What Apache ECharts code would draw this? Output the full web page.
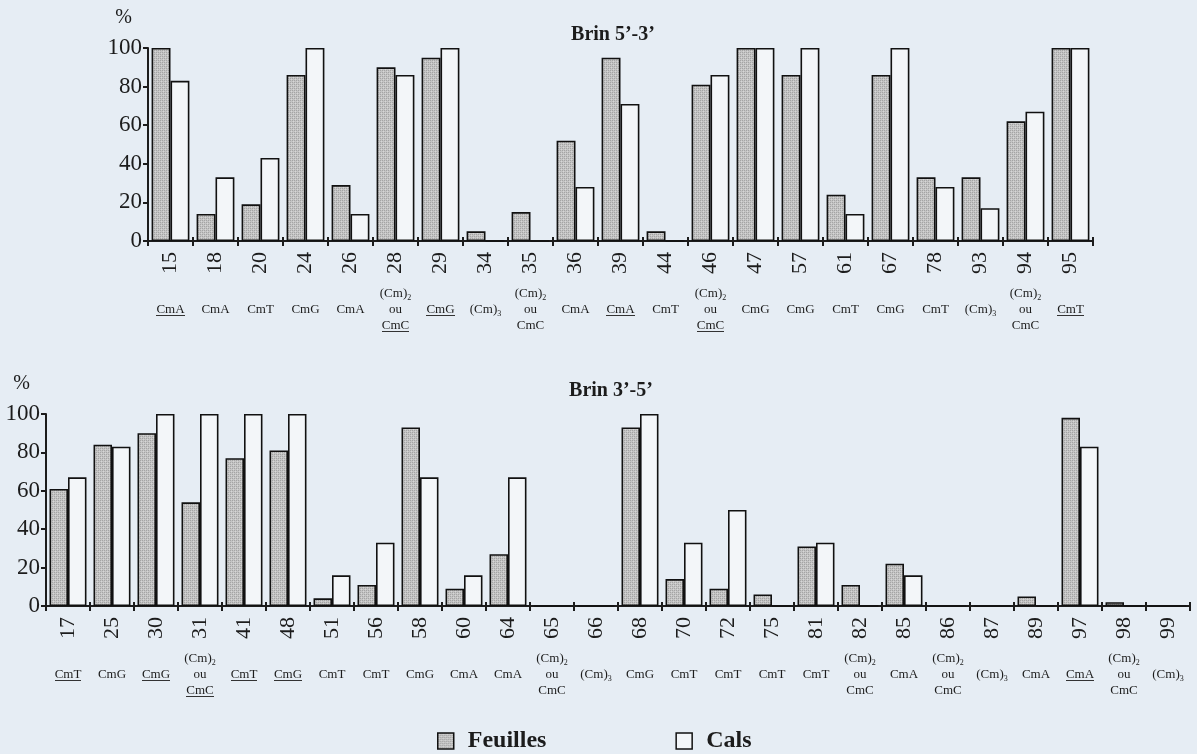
<!DOCTYPE html>
<html>
<head>
<meta charset="utf-8">
<script src="https://cdn.jsdelivr.net/npm/echarts@6.0.0/dist/echarts.min.js"></script>
<style>
html,body{margin:0;padding:0;background:#e6edf4;}
#chart{width:1197px;height:754px;}
</style>
</head>
<body>
<div id="chart"></div>
<script>
// ---- Data ----
var topCategories = ['15','18','20','24','26','28','29','34','35','36','39','44','46','47','57','61','67','78','93','94','95'];
// '_' prefix = underlined; 'CM2' = (Cm)2 ou CmC ; 'CM2_' = (Cm)2 ou CmC (CmC underlined); 'CM3' = (Cm)3
var topTypes = ['_CmA','CmA','CmT','CmG','CmA','CM2_','_CmG','CM3','CM2','CmA','_CmA','CmT','CM2_','CmG','CmG','CmT','CmG','CmT','CM3','CM2','_CmT'];
var topFeuilles = [100,14,19,86,29,90,95,5,15,52,95,5,81,100,86,24,86,33,33,62,100];
var topCals     = [83,33,43,100,14,86,100,0,0,28,71,0,86,100,100,14,100,28,17,67,100];

var bottomCategories = ['17','25','30','31','41','48','51','56','58','60','64','65','66','68','70','72','75','81','82','85','86','87','89','97','98','99'];
var bottomTypes = ['_CmT','CmG','_CmG','CM2_','_CmT','_CmG','CmT','CmT','CmG','CmA','CmA','CM2','CM3','CmG','CmT','CmT','CmT','CmT','CM2','CmA','CM2','CM3','CmA','_CmA','CM2','CM3'];
var bottomFeuilles = [61,84,90,54,77,81,4,11,93,9,27,0,0,93,14,9,6,31,11,22,0,0,5,98,2,0];
var bottomCals     = [67,83,100,100,100,100,16,33,67,16,67,0,0,100,33,50,0,33,0,16,0,0,0,83,0,0];

var yTicks = [0,20,40,60,80,100];
var titles = ['Brin 5\u2019-3\u2019','Brin 3\u2019-5\u2019'];
var seriesNames = ['Feuilles','Cals'];

// ---- Styles ----
var SERIF = "'Liberation Serif','DejaVu Serif',serif";
var INK = '#1c1c1c';

function stipple(){
  var c = document.createElement('canvas'); c.width = 4; c.height = 4;
  var g = c.getContext('2d');
  g.fillStyle = '#c4c4c4'; g.fillRect(0,0,4,4);
  g.fillStyle = '#a4a4a4';
  g.fillRect(0,0,1,1); g.fillRect(2,2,1,1); g.fillRect(2,0,1,1); g.fillRect(0,2,1,1);
  g.fillStyle = '#d6d6d6';
  g.fillRect(1,1,1,1); g.fillRect(3,3,1,1);
  return c;
}
function underlineImg(){
  var c = document.createElement('canvas'); c.width = 4; c.height = 32;
  var g = c.getContext('2d');
  g.fillStyle = '#333'; g.fillRect(0,28,4,2);
  return c;
}
var greyFill = {image: stipple(), repeat: 'repeat'};
var uImg = underlineImg();

var rich = {
  n: {fontFamily: SERIF, fontSize: 13, lineHeight: 16, color: INK},
  u: {fontFamily: SERIF, fontSize: 13, lineHeight: 16, color: INK, backgroundColor: {image: uImg}},
  s: {fontFamily: SERIF, fontSize: 8, lineHeight: 10, color: INK, verticalAlign: 'bottom'}
};
function typeLabel(code){
  if (code === 'CM2') return '{n|(Cm)}{s|2}\n{n|ou}\n{n|CmC}';
  if (code === 'CM2_') return '{n|(Cm)}{s|2}\n{n|ou}\n{u|CmC}';
  if (code === 'CM3') return '{n|(Cm)}{s|3}';
  if (code.charAt(0) === '_') return '{u|' + code.slice(1) + '}';
  return '{n|' + code + '}';
}

function numAxis(grid, cats){
  return {
    type: 'category', gridIndex: grid, data: cats, position: 'bottom',
    axisLine: {lineStyle: {color: INK, width: 2}},
    axisTick: {show: true, length: 5, lineStyle: {color: INK, width: 2}, alignWithLabel: false},
    axisLabel: {interval: 0, rotate: 90, fontFamily: SERIF, fontSize: 22, color: INK, margin: 11}
  };
}
function typeAxis(grid, cats, types){
  return {
    type: 'category', gridIndex: grid, data: cats, position: 'bottom',
    axisLine: {show: false},
    axisTick: {show: true, inside: true, length: 4, lineStyle: {color: INK, width: 2}},
    axisLabel: {interval: 0, margin: 69, verticalAlign: 'middle',
      formatter: function(v, i){ return typeLabel(types[i]); }, rich: rich}
  };
}
function valAxis(grid){
  return {
    type: 'value', gridIndex: grid, min: yTicks[0], max: yTicks[yTicks.length-1], interval: 20,
    name: '%', nameLocation: 'end', nameGap: 20,
    nameTextStyle: {fontFamily: SERIF, fontSize: 20, color: INK, align: 'right', padding: [0, 16, 0, 0]},
    axisLine: {show: true, lineStyle: {color: INK, width: 2}},
    axisTick: {show: true, length: 5, lineStyle: {color: INK, width: 2}},
    splitLine: {show: false},
    axisLabel: {fontFamily: SERIF, fontSize: 23, color: INK, margin: 6}
  };
}
function bar(name, xi, yi, data, fill){
  return {
    name: name, type: 'bar', xAxisIndex: xi, yAxisIndex: yi, data: data,
    barGap: '0%', barCategoryGap: '16%',
    itemStyle: {color: fill, borderColor: '#111', borderWidth: 1.6},
    emphasis: {disabled: true}, animation: false
  };
}

var chart = echarts.init(document.getElementById('chart'), null, {renderer: 'canvas'});
chart.setOption({
  backgroundColor: '#e6edf4',
  animation: false,
  title: [
    {text: titles[0], left: 608, top: 20, textAlign: 'center',
     textStyle: {fontFamily: SERIF, fontSize: 20, fontWeight: 'bold', color: INK}},
    {text: titles[1], left: 606, top: 376, textAlign: 'center',
     textStyle: {fontFamily: SERIF, fontSize: 20, fontWeight: 'bold', color: INK}}
  ],
  legend: {
    data: seriesNames, left: 432, top: 724, itemGap: 129, itemWidth: 16, itemHeight: 16,
    icon: 'rect', selectedMode: false,
    itemStyle: {borderColor: '#111', borderWidth: 1.5},
    textStyle: {fontFamily: SERIF, fontSize: 24, fontWeight: 'bold', color: INK, padding: [0,0,0,9]}
  },
  grid: [
    {left: 148, width: 945, top: 48, height: 193},
    {left: 46, width: 1144, top: 414, height: 192}
  ],
  xAxis: [
    numAxis(0, topCategories), typeAxis(0, topCategories, topTypes),
    numAxis(1, bottomCategories), typeAxis(1, bottomCategories, bottomTypes)
  ],
  yAxis: [valAxis(0), valAxis(1)],
  series: [
    bar(seriesNames[0], 0, 0, topFeuilles, greyFill),
    bar(seriesNames[1], 0, 0, topCals, '#f3f6f9'),
    bar(seriesNames[0], 2, 1, bottomFeuilles, greyFill),
    bar(seriesNames[1], 2, 1, bottomCals, '#f3f6f9')
  ]
});
</script>
</body>
</html>
